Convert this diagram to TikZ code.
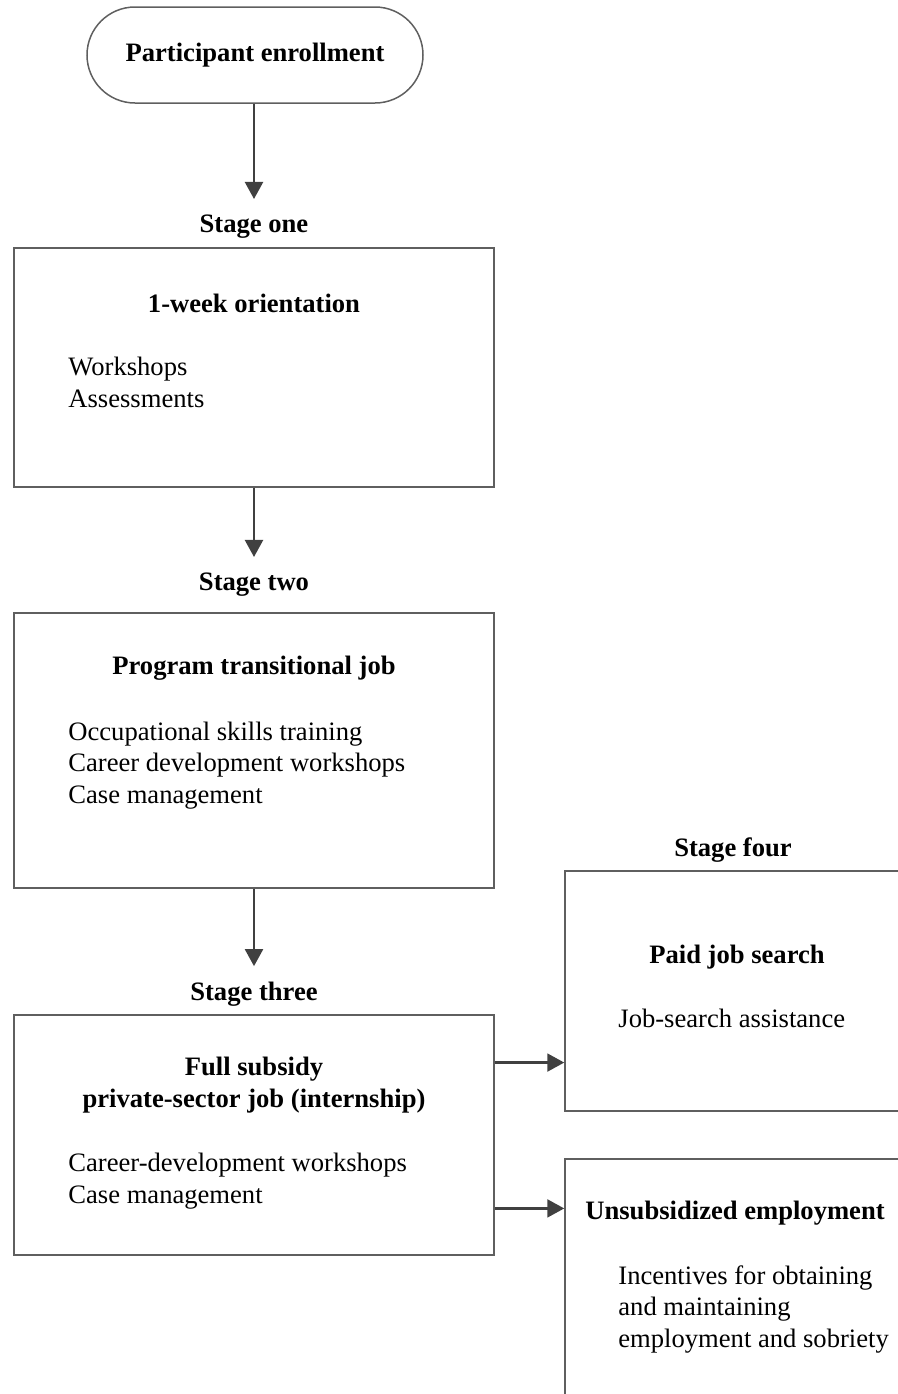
\documentclass[tikz,border=0pt]{standalone}
\usepackage{fontspec}
\setmainfont{Liberation Serif}
\usetikzlibrary{arrows.meta,calc}
\definecolor{boxline}{RGB}{95,95,95}
\definecolor{arrcol}{RGB}{64,64,64}
\tikzset{
  box/.style={draw=boxline, line width=0.75pt, rectangle, inner sep=0pt},
  term/.style={draw=boxline, line width=0.75pt, rectangle, rounded corners=24pt,
    minimum width=168pt, minimum height=48pt, font=\fontsize{13.3}{15.75}\selectfont\bfseries},
  stagelab/.style={inner sep=0pt, anchor=base, font=\fontsize{13.3}{15.75}\selectfont\bfseries},
  title/.style={inner sep=0pt, anchor=base, align=center, font=\fontsize{13.3}{15.75}\selectfont\bfseries},
  items/.style={inner sep=0pt, anchor=base west, align=left, font=\fontsize{13.3}{15.75}\selectfont},
  arr/.style={draw=arrcol, line width=1.1pt, -{Triangle[width=9pt,length=8.5pt]}, fill=arrcol}
}
\begin{document}
\begin{tikzpicture}[x=0.5pt,y=-0.5pt]
\useasboundingbox (0,0) rectangle (898,1394);
\clip (0,0) rectangle (898,1394);
% terminal
\node[term] (enroll) at (255,55) {Participant enrollment};
% stage one
\node[stagelab] (s1) at (254,232) {Stage one};
\node[box, minimum width=240pt, minimum height=119.5pt] (b1) at (254,367.5) {};
\node[title] (t1) at (254,312) {1-week orientation};
\node[items] (l1) at (68,407) {Workshops\\Assessments};
% stage two
\node[stagelab] (s2) at (254,590) {Stage two};
\node[box, minimum width=240pt, minimum height=137.5pt] (b2) at (254,750.5) {};
\node[title] (t2) at (254,674) {Program transitional job};
\node[items] (l2) at (68,803) {Occupational skills training\\Career development workshops\\Case management};
% stage three
\node[stagelab] (s3) at (254,1000) {Stage three};
\node[box, minimum width=240pt, minimum height=120pt] (b3) at (254,1135) {};
\node[title] (t3) at (254,1107) {Full subsidy\\private-sector job (internship)};
\node[items] (l3) at (68,1203) {Career-development workshops\\Case management};
% stage four
\node[stagelab] (s4) at (733,856) {Stage four};
\node[box, minimum width=180pt, minimum height=120pt] (b4) at (745,991) {};
\node[title] (t4) at (737,963) {Paid job search};
\node[items] (l4) at (618,1027) {Job-search assistance};
% unsubsidized
\node[box, minimum width=180pt, minimum height=135.5pt] (b5) at (745,1294.5) {};
\node[items, font=\fontsize{13.3}{15.75}\selectfont\bfseries] (t5) at (585,1219) {Unsubsidized employment};
\node[items] (l5) at (618,1347) {Incentives for obtaining\\and maintaining\\employment and sobriety};
% connectors
\draw[arr, shorten >=7.5pt] (enroll.south -| s1.north) -- (s1.north);
\draw[arr, shorten >=7.5pt] (b1.south) -- (s2.north);
\draw[arr, shorten >=7.5pt] (b2.south) -- (s3.north);
\coordinate (p1) at ($(b3.north east)!0.2!(b3.south east)$);
\coordinate (p2) at ($(b3.north east)!0.804!(b3.south east)$);
\draw[arr] (p1) -- (p1 -| b4.west);
\draw[arr] (p2) -- (p2 -| b5.west);
\end{tikzpicture}
\end{document}
